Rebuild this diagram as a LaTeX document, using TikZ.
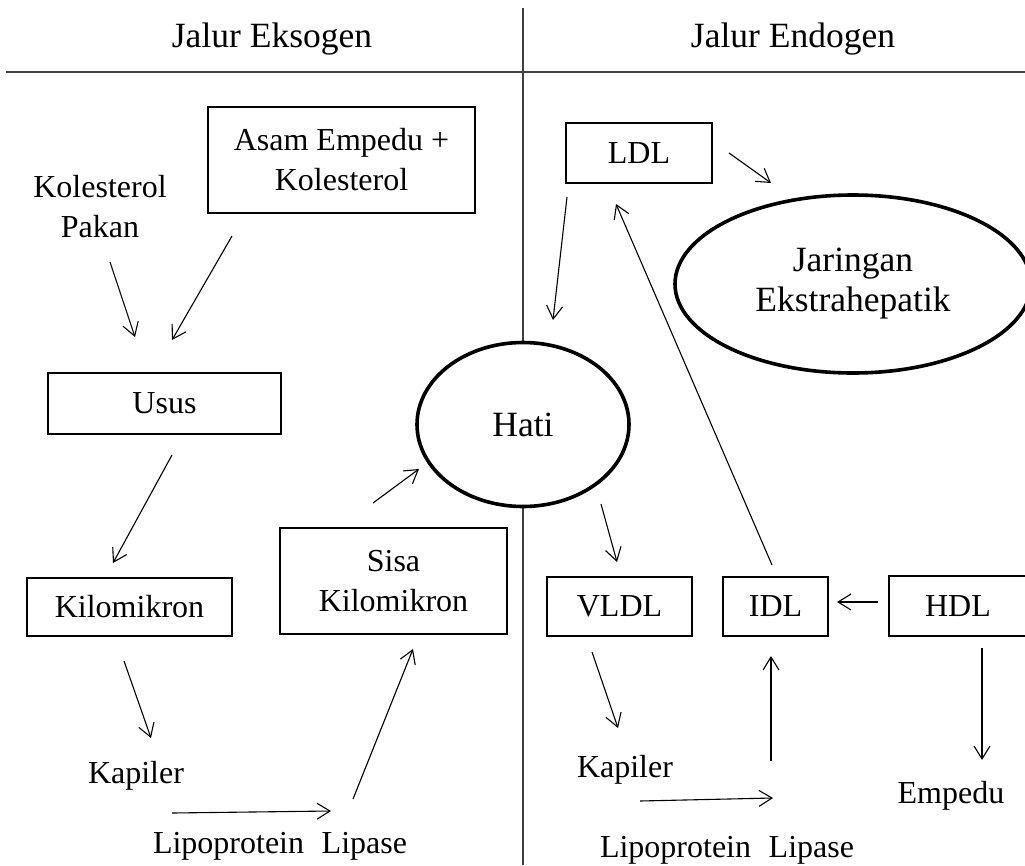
\documentclass[tikz,border=0pt]{standalone}
\usepackage{fontspec}
\setmainfont{Liberation Serif}
\usetikzlibrary{arrows.meta,shapes.geometric}
\begin{document}
\begin{tikzpicture}[x=1pt,y=-1pt,
  txt/.style={inner sep=0pt,font=\fontsize{32}{40}\selectfont,align=center},
  title/.style={txt,font=\fontsize{35.5}{40}\selectfont},
  box/.style={txt,draw,line width=1.3pt},
  oval/.style={txt,draw,ellipse,line width=3.6pt,fill=white,font=\fontsize{35.5}{40}\selectfont},
  arr/.style={line width=1.1pt,-{Straight Barb[length=13pt,width=16pt,line width=1.1pt]}},
  rule/.style={line width=1.4pt,draw=black!75}]
\useasboundingbox (0,0) rectangle (1025,865);
% dividing rules
\coordinate (hl) at (6,72);
\coordinate (hr) at (1025,72);
\coordinate (vt) at (523,8);
\coordinate (vb) at (523,865);
\draw[rule] (hl) -- (hr);
\draw[rule] (vt) -- (vb);
% titles
\node[title,anchor=base] (t1) at (272,47) {Jalur Eksogen};
\node[title,anchor=base] (t2) at (793,47) {Jalur Endogen};
% left side
\node[box,minimum width=267pt,minimum height=106pt] (asam) at (341.5,160) {Asam Empedu +\\Kolesterol};
\node[txt] (kp) at (100,207) {Kolesterol\\Pakan};
\node[box,minimum width=233pt,minimum height=61pt] (usus) at (164.5,403.5) {Usus};
\node[box,minimum width=205pt,minimum height=58pt] (kilo) at (129.5,607) {Kilomikron};
\node[box,minimum width=227pt,minimum height=106pt] (sisa) at (393.5,581) {Sisa\\Kilomikron};
\node[txt,anchor=base] (kap1) at (136,783) {Kapiler};
\node[txt,anchor=base] (lpl1) at (280,853) {Lipoprotein\hspace{0.3em} Lipase};
% ovals
\node[oval,minimum width=212pt,minimum height=164pt] (hati) at (523,424.5) {Hati};
\node[oval,minimum width=356pt,minimum height=178pt] (jar) at (853,284) {Jaringan\\Ekstrahepatik};
% right side
\node[box,minimum width=146pt,minimum height=60pt] (ldl) at (639,153) {LDL};
\node[box,minimum width=145pt,minimum height=59pt] (vldl) at (619.5,606.5) {VLDL};
\node[box,minimum width=105pt,minimum height=59pt] (idl) at (775.5,606.5) {IDL};
\node[box,minimum width=138pt,minimum height=60pt] (hdl) at (958,606) {HDL};
\node[txt,anchor=base] (kap2) at (625,777) {Kapiler};
\node[txt,anchor=base] (lpl2) at (727,857) {Lipoprotein\hspace{0.3em} Lipase};
\node[txt,anchor=base] (emp) at (951,803) {Empedu};
% connector end points
\coordinate (kp-o) at (110,262);   \coordinate (usus-i1) at (135,337);
\coordinate (asam-o) at (232,236); \coordinate (usus-i2) at (172,340);
\coordinate (usus-o) at (172,455); \coordinate (kilo-i) at (113,563);
\coordinate (kilo-o) at (124,661); \coordinate (kap1-i) at (151,738);
\coordinate (kap1-o) at (172,813); \coordinate (lpl1-i) at (331,811);
\coordinate (lpl1-o) at (353,799); \coordinate (sisa-i) at (413,649);
\coordinate (sisa-o) at (373,503); \coordinate (hati-i) at (419,469);
\coordinate (ldl-o1) at (729,153); \coordinate (jar-i) at (771,183);
\coordinate (ldl-o2) at (567,197); \coordinate (hati-i2) at (553,320);
\coordinate (idl-o) at (772,565);  \coordinate (ldl-i) at (616,204);
\coordinate (hati-o) at (601,504); \coordinate (vldl-i) at (617,562);
\coordinate (hdl-o) at (878,602);  \coordinate (idl-i1) at (837,602);
\coordinate (vldl-o) at (592,652); \coordinate (kap2-i) at (618,728);
\coordinate (kap2-o) at (640,801); \coordinate (lpl2-i) at (773,798);
\coordinate (lpl2-o) at (771,761); \coordinate (idl-i2) at (771,656);
\coordinate (hdl-o2) at (982,648); \coordinate (emp-i) at (982,760);
% connectors
\draw[arr] (kp-o) -- (usus-i1);
\draw[arr] (asam-o) -- (usus-i2);
\draw[arr] (usus-o) -- (kilo-i);
\draw[arr] (kilo-o) -- (kap1-i);
\draw[arr] (kap1-o) -- (lpl1-i);
\draw[arr] (lpl1-o) -- (sisa-i);
\draw[arr] (sisa-o) -- (hati-i);
\draw[arr] (ldl-o1) -- (jar-i);
\draw[arr] (ldl-o2) -- (hati-i2);
\draw[arr] (idl-o) -- (ldl-i);
\draw[arr] (hati-o) -- (vldl-i);
\draw[arr] (hdl-o) -- (idl-i1);
\draw[arr] (vldl-o) -- (kap2-i);
\draw[arr] (kap2-o) -- (lpl2-i);
\draw[arr] (lpl2-o) -- (idl-i2);
\draw[arr] (hdl-o2) -- (emp-i);
\end{tikzpicture}
\end{document}
